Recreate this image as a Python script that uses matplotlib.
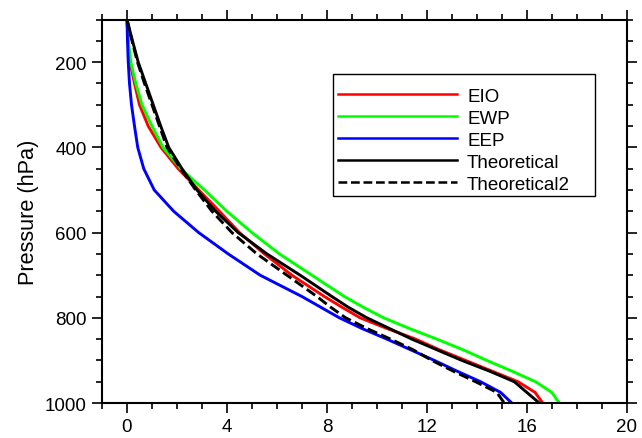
import matplotlib
matplotlib.use("Agg")
import matplotlib.pyplot as plt
from matplotlib.patches import Rectangle
from matplotlib.ticker import MultipleLocator

plt.rcParams["font.family"] = ["Liberation Sans", "DejaVu Sans"]

# pressure levels (hPa)
levels = [100, 150, 200, 250, 300, 350, 400, 450, 500, 550, 600, 650, 700,
          750, 775, 800, 825, 850, 875, 900, 925, 950, 975, 1000]

eio = [0.0, 0.04, 0.12, 0.3, 0.5, 0.85, 1.36, 2.05, 2.87, 3.7, 4.5, 5.5, 6.6,
       7.9, 8.6, 9.33, 10.4, 11.55, 12.5, 13.55, 14.6, 15.65, 16.33, 16.64]
ewp = [0.0, 0.05, 0.15, 0.35, 0.6, 1.0, 1.44, 2.15, 3.1, 4.0, 5.0, 6.1, 7.4,
       8.7, 9.45, 10.27, 11.3, 12.4, 13.45, 14.4, 15.4, 16.35, 17.0, 17.3]
eep = [0.0, 0.02, 0.05, 0.1, 0.18, 0.3, 0.43, 0.67, 1.09, 1.87, 2.87, 4.05, 5.33,
       7.0, 7.75, 8.5, 9.4, 10.4, 11.35, 12.3, 13.2, 14.15, 14.95, 15.4]
theo = [0.0, 0.22, 0.45, 0.75, 1.05, 1.35, 1.67, 2.2, 2.8, 3.55, 4.45, 5.6, 6.93,
        8.2, 8.85, 9.6, 10.5, 11.4, 12.4, 13.4, 14.5, 15.5, 16.0, 16.5]
theo2 = [0.0, 0.2, 0.42, 0.7, 1.0, 1.3, 1.6, 2.15, 2.75, 3.4, 4.2, 5.2, 6.4,
         7.6, 8.15, 8.75, 9.6, 10.55, 11.45, 12.2, 13.05, 13.95, 14.8, 15.1]

series = [("EIO", eio, "#ff0000", "-"),
          ("EWP", ewp, "#00ff00", "-"),
          ("EEP", eep, "#0000ff", "-"),
          ("Theoretical", theo, "black", "-"),
          ("Theoretical2", theo2, "black", (0, (3.5, 1.5)))]

fig = plt.figure(figsize=(6.42, 4.39), dpi=100)
ax = fig.add_axes([0.1589, 0.0797, 0.8173, 0.8734])

for name, vals, col, ls in series:
    ax.plot(vals, levels, color=col, ls=ls, lw=2.1, label=name)

ax.set_xlim(-1, 20)
ax.set_ylim(1000, 100)
ax.xaxis.set_major_locator(MultipleLocator(4))
ax.xaxis.set_minor_locator(MultipleLocator(1))
ax.set_yticks([200, 400, 600, 800, 1000])
ax.yaxis.set_minor_locator(MultipleLocator(50))
ax.tick_params(which="both", direction="out", top=True, right=True,
               labeltop=False, labelright=False, width=1.2, labelsize=13.5,
               colors="black")
ax.tick_params(which="major", length=7.5)
ax.tick_params(which="minor", length=4)
for sp in ax.spines.values():
    sp.set_linewidth(1.5)
ax.set_ylabel("Pressure (hPa)", fontsize=15.7, labelpad=4)

# legend box drawn separately (NCL-style fixed-width frame)
ax.add_patch(Rectangle((0.4403, 0.540), 0.4993, 0.318, transform=ax.transAxes,
                       fill=True, facecolor="white", edgecolor="black",
                       lw=1.0, zorder=4))
leg = ax.legend(loc="upper left", bbox_to_anchor=(0.4498, 0.822), frameon=False,
                fontsize=13.5, handlelength=6.35, handletextpad=0.53,
                labelspacing=0.26, borderpad=0, borderaxespad=0)
leg.set_zorder(5)
for h in leg.get_lines():
    h.set_linewidth(1.8)

fig.savefig("out.png", dpi=100)
